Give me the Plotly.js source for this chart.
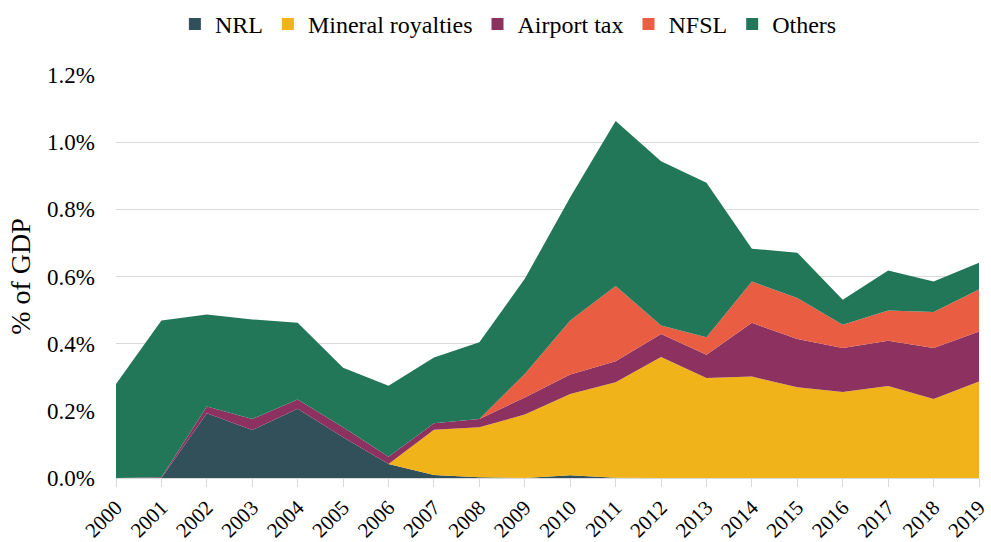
<!DOCTYPE html>
<html>
<head>
<meta charset="utf-8">
<script src="https://cdn.plot.ly/plotly-3.0.1.min.js"></script>
<style>html,body{margin:0;padding:0;background:#fff;}#chart{width:991px;height:542px;}</style>
</head>
<body>
<div id="chart"></div>
<script>
const years = [2000,2001,2002,2003,2004,2005,2006,2007,2008,2009,2010,2011,2012,2013,2014,2015,2016,2017,2018,2019];
const nrl      = [0,0,0.193,0.143,0.206,0.121,0.042,0.009,0.002,0,0.008,0.001,0,0,0,0,0,0,0,0];
const mineral  = [0,0,0,0,0,0,0,0.135,0.149,0.189,0.242,0.284,0.360,0.298,0.302,0.270,0.256,0.274,0.235,0.287];
const airport  = [0,0.002,0.020,0.033,0.028,0.030,0.021,0.019,0.025,0.051,0.058,0.063,0.069,0.069,0.160,0.144,0.131,0.135,0.152,0.149];
const nfsl     = [0,0,0,0,0,0,0,0,0,0.070,0.161,0.224,0.025,0.052,0.123,0.122,0.069,0.090,0.107,0.125];
const others   = [0.280,0.467,0.274,0.296,0.228,0.177,0.212,0.196,0.228,0.283,0.367,0.491,0.489,0.460,0.098,0.135,0.075,0.119,0.091,0.080];
const tickVals = [0,0.2,0.4,0.6,0.8,1.0,1.2];
const tickText = ['0.0%','0.2%','0.4%','0.6%','0.8%','1.0%','1.2%'];

const FONT = 'Liberation Serif, Times New Roman, serif';
const series = [
  {name:'NRL', y:nrl, color:'#32505a'},
  {name:'Mineral royalties', y:mineral, color:'#f0b41a'},
  {name:'Airport tax', y:airport, color:'#8d3260'},
  {name:'NFSL', y:nfsl, color:'#e95d42'},
  {name:'Others', y:others, color:'#237759'}
];
const traces = series.map(s => ({
  type:'scatter', mode:'lines', x:years, y:s.y, name:s.name, showlegend:false,
  stackgroup:'one', line:{width:0, color:s.color}, fillcolor:s.color
}));
// legend-only square swatches (no data drawn)
series.forEach(s => traces.push({
  type:'bar', x:[null], y:[null], name:s.name, marker:{color:s.color}, showlegend:true
}));

const layout = {
  width:991, height:542,
  margin:{l:116, r:12, t:75, b:64, autoexpand:false},
  paper_bgcolor:'#fff', plot_bgcolor:'#fff',
  font:{family:FONT, size:23, color:'#000'},
  showlegend:true,
  legend:{orientation:'h', xref:'container', x:0.513, xanchor:'center', yref:'container', y:0.955, yanchor:'middle',
          font:{family:FONT, size:24, color:'#000'}, traceorder:'normal', itemwidth:30},
  xaxis:{range:[2000,2019], tickvals:years, ticktext:years.map(String), tickangle:-45,
         showgrid:false, showline:true, linecolor:'#d9d9d9', linewidth:1,
         ticks:'outside', ticklen:8, tickcolor:'#d9d9d9', zeroline:false,
         ticklabeloverflow:'allow', automargin:false,
         tickfont:{family:FONT, size:21, color:'#000'}},
  yaxis:{range:[0,1.2], tickvals:tickVals, ticktext:tickText,
         showgrid:true, gridcolor:'#d9d9d9', gridwidth:1, zeroline:false, automargin:false,
         showline:false, ticks:'', ticklabelstandoff:20, tickfont:{family:FONT, size:23, color:'#000'},
         title:{text:'% of GDP', font:{family:FONT, size:28, color:'#000'}, standoff:8}}
};
Plotly.newPlot('chart', traces, layout, {displayModeBar:false, staticPlot:true});
</script>
</body>
</html>
